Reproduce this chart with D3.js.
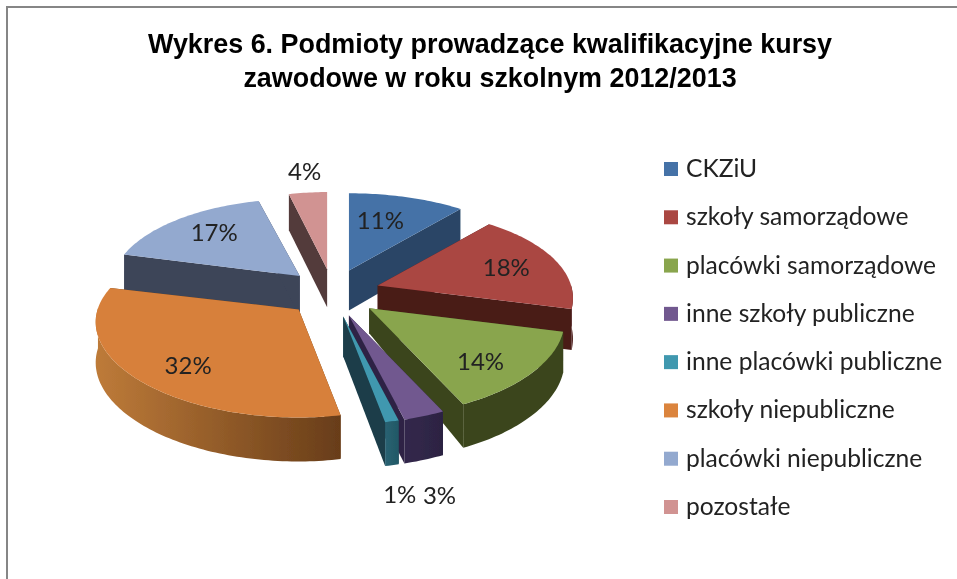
<!DOCTYPE html>
<html lang="pl"><head><meta charset="utf-8">
<style>html,body{margin:0;padding:0;background:#fff}svg{display:block}</style>
<script src="https://cdn.jsdelivr.net/npm/d3@7"></script></head><body><div id="c"></div>
<script>
// ---- data ----
const titleLines = ["Wykres 6. Podmioty prowadzące kwalifikacyjne kursy","zawodowe w roku szkolnym 2012/2013"];
const categories = ["CKZiU","szkoły samorządowe","placówki samorządowe","inne szkoły publiczne","inne placówki publiczne","szkoły niepubliczne","placówki niepubliczne","pozostałe"];
const values = [11,18,14,3,1,32,17,4];
// ---- styles ----
const topColors  = ["#4572A7","#AA4643","#89A54E","#71588F","#4198AF","#D7803A","#93A9CF","#D19392"];
const legendColors=["#4572A7","#AA4643","#89A54E","#71588F","#4198AF","#DB843D","#93A9CF","#D19392"];
const edgeColors = ["#2A4566","#491B18","#3A451C","#2E2444","#1A3D49","#6B3F1A","#3C4459","#533A3A"];
const rimLeft    = ["#2A4566","#491B18","#3A451C","#33284C","#2A6272","#BE7B39","#3C4459","#533A3A"];
const rimRight   = ["#2A4566","#491B18","#3A451C","#2C2342","#215866","#683D19","#3C4459","#533A3A"];
const paintOrder = [7,6,0,1,2,5,3,4];
const apexDepth  = [40,40,25,40,40,40,40,38];
const stretchX   = [1,1,1,1,1,1.04,0.97,0.9];
const labelNudge = [[-5,-3],[21,-1],[17,17],[48,124],[29,120],[-21,17],[-8,-7],[-9,-48]];
// ---- layout ----
const W=957,H=579,cx=333,cy=293,A=193.4,B=90,perspX=0.137,perspY=0.167,explodeX=47,explodeY=24;
const svg=d3.select("#c").append("svg").attr("width",W).attr("height",H);
const defs=svg.append("defs");
defs.append("filter").attr("id","soft").append("feGaussianBlur").attr("stdDeviation",0.35);
svg.append("rect").attr("width",W).attr("height",H).attr("fill","#fff");
svg.append("path").attr("d",`M7 ${H}V7H${W}`).attr("fill","none").attr("stroke","#868686").attr("stroke-width",2);

const title=svg.append("g").attr("filter","url(#soft)");
titleLines.forEach((t,i)=>title.append("text").attr("x",490).attr("y",53+i*34)
  .attr("text-anchor","middle").attr("font-family","Liberation Sans").attr("font-weight",700)
  .attr("font-size",26.9).attr("fill","#000").text(t));

const arcs=d3.pie().sort(null).value(d=>d)(values);
const proj=(r,t)=>{const u=r*Math.sin(t),v=-r*Math.cos(t);return [A*u/(1-perspX*v),B*v/(1-perspY*v),v];};
const apexOf=a=>{const m=(a.startAngle+a.endAngle)/2;return [cx+explodeX*Math.sin(m),cy-explodeY*Math.cos(m)];};
const line=d3.line();
const rimDepth=v=>40+4*v;
const pieG=svg.append("g").attr("filter","url(#soft)");

paintOrder.forEach(i=>{
  const a=arcs[i],[ax,ay]=apexOf(a),g=pieG.append("g");
  const n=Math.max(4,Math.ceil((a.endAngle-a.startAngle)/0.02));
  const ts=d3.range(n+1).map(k=>a.startAngle+(a.endAngle-a.startAngle)*k/n);
  const rim=ts.map(t=>{const p=proj(1,t);return [ax+p[0]*(p[0]<0?stretchX[i]:1),ay+p[1],p[2]];});
  const first=rim[0],last=rim[n];
  [first,last].forEach(p=>{
    g.append("path").attr("d",line([[ax,ay],[p[0],p[1]],[p[0],p[1]+rimDepth(p[2])],[ax,ay+apexDepth[i]]])+"Z").attr("fill",edgeColors[i]);
  });
  const front=rim.filter(p=>p[2]>-0.02);
  if(front.length>1){
    const gid="rim"+i,xs=d3.extent(front,p=>p[0]);
    const gr=defs.append("linearGradient").attr("id",gid).attr("gradientUnits","userSpaceOnUse")
      .attr("x1",xs[0]).attr("x2",xs[1]).attr("y1",0).attr("y2",0);
    gr.append("stop").attr("offset",0).attr("stop-color",rimLeft[i]);
    gr.append("stop").attr("offset",1).attr("stop-color",rimRight[i]);
    const pts=front.map(p=>[p[0],p[1]]).concat(front.slice().reverse().map(p=>[p[0],p[1]+rimDepth(p[2])]));
    g.append("path").attr("d",line(pts)+"Z").attr("fill",`url(#${gid})`);
  }
  g.append("path").attr("d",line([[ax,ay]].concat(rim.map(p=>[p[0],p[1]])))+"Z").attr("fill",topColors[i]);
});

const labels=svg.append("g").attr("filter","url(#soft)");
arcs.forEach((a,i)=>{
  const [ax,ay]=apexOf(a),m=(a.startAngle+a.endAngle)/2,p=proj(0.6,m);
  labels.append("text").attr("x",ax+p[0]+labelNudge[i][0]).attr("y",ay+p[1]+labelNudge[i][1]+8)
    .attr("text-anchor","middle").attr("font-family","Lato").attr("font-size",24).attr("fill","#222")
    .text(a.data+"%");
});

const ly=d3.scalePoint().domain(categories).range([169,507]);
const legend=svg.append("g").attr("filter","url(#soft)");
categories.forEach((c,i)=>{
  legend.append("rect").attr("x",664).attr("y",ly(c)-7).attr("width",14).attr("height",14).attr("fill",legendColors[i]);
  legend.append("text").attr("x",686).attr("y",ly(c)+8).attr("font-family","Lato").attr("font-size",24.6).attr("fill","#222").text(c);
});
</script></body></html>
